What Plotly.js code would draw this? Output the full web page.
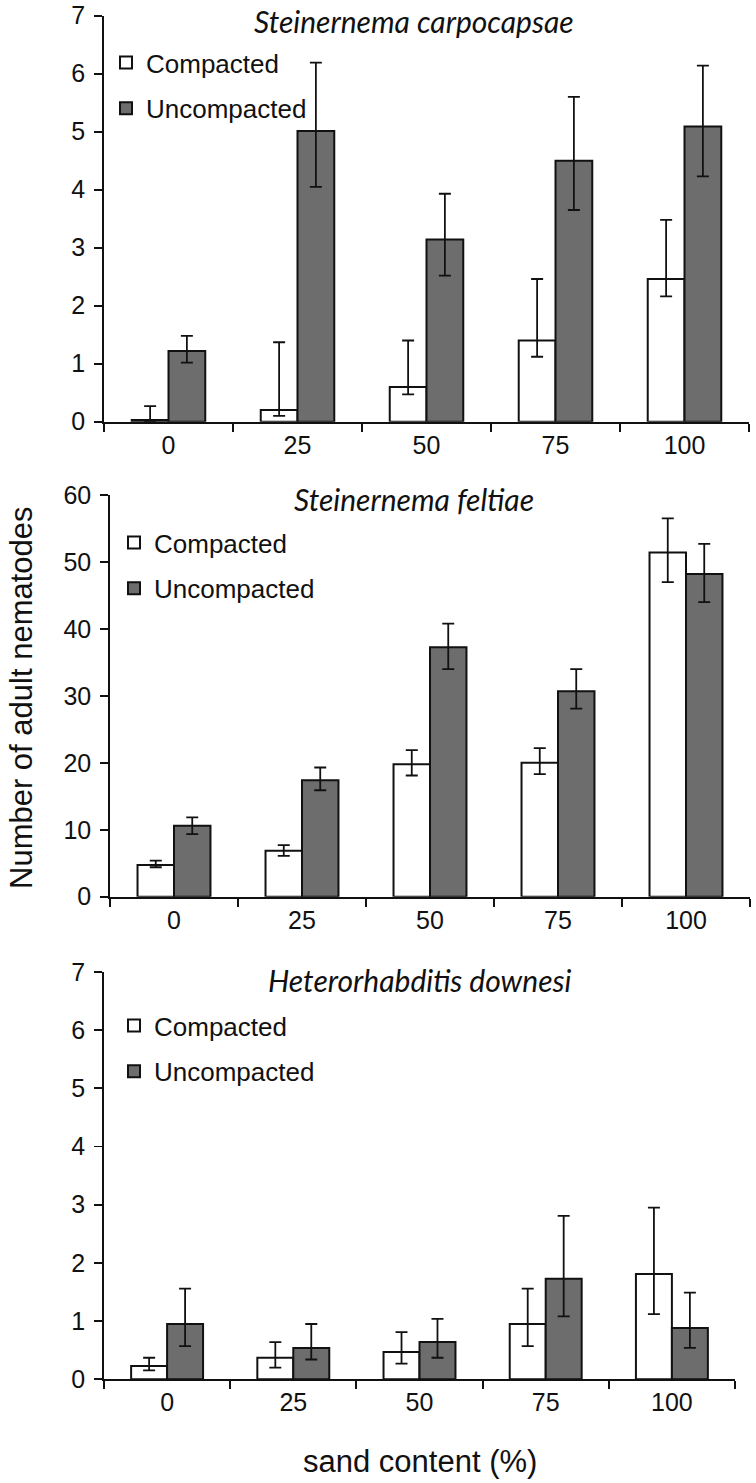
<!DOCTYPE html>
<html>
<head>
<meta charset="utf-8">
<script src="https://cdn.plot.ly/plotly-3.0.1.min.js"></script>
<style>
  html, body { margin: 0; padding: 0; background: #fff; }
  #chart { width: 756px; height: 1483px; }
</style>
</head>
<body>
<div id="chart"></div>
<script>
// ---- data ----
const categories = ['0', '25', '50', '75', '100'];
const seriesNames = ['Compacted', 'Uncompacted'];
const panelTitles = ['Steinernema carpocapsae', 'Steinernema feltiae', 'Heterorhabditis downesi'];
const yAxisTitle = 'Number of adult nematodes';
const xAxisTitle = 'sand content (%)';

// Steinernema carpocapsae
const carpCompacted = [0.03, 0.2, 0.6, 1.4, 2.46];
const carpCompactedPlus = [0.24, 1.17, 0.8, 1.06, 1.02];
const carpCompactedMinus = [0.03, 0.1, 0.13, 0.28, 0.3];
const carpUncompacted = [1.22, 5.01, 3.14, 4.5, 5.09];
const carpUncompactedPlus = [0.26, 1.18, 0.79, 1.1, 1.05];
const carpUncompactedMinus = [0.2, 0.96, 0.62, 0.85, 0.86];

// Steinernema feltiae
const feltCompacted = [4.73, 6.87, 19.8, 20.0, 51.4];
const feltCompactedPlus = [0.67, 0.83, 2.1, 2.2, 5.1];
const feltCompactedMinus = [0.33, 0.77, 1.7, 1.7, 4.4];
const feltUncompacted = [10.6, 17.4, 37.25, 30.7, 48.2];
const feltUncompactedPlus = [1.25, 1.9, 3.55, 3.3, 4.5];
const feltUncompactedMinus = [1.24, 1.5, 3.25, 2.6, 4.2];

// Heterorhabditis downesi
const downCompacted = [0.23, 0.37, 0.47, 0.95, 1.81];
const downCompactedPlus = [0.14, 0.27, 0.34, 0.61, 1.14];
const downCompactedMinus = [0.075, 0.17, 0.2, 0.38, 0.69];
const downUncompacted = [0.95, 0.54, 0.64, 1.73, 0.88];
const downUncompactedPlus = [0.61, 0.41, 0.4, 1.08, 0.61];
const downUncompactedMinus = [0.38, 0.2, 0.27, 0.65, 0.34];

// ---- style ----
const W = 756, H = 1483;
const tickFont = { family: 'Liberation Sans, Arial, sans-serif', size: 25, color: '#111' };
const titleFont = { family: 'Lato, Open Sans, sans-serif', size: 30, color: '#111', style: 'italic' };
const fillC = '#ffffff', fillU = '#6d6d6d';

function px2x(p) { return p / W; }
function px2y(p) { return 1 - p / H; }

const panels = [
  { c: carpCompacted, cp: carpCompactedPlus, cm: carpCompactedMinus,
    u: carpUncompacted, up: carpUncompactedPlus, um: carpUncompactedMinus,
    range: [0, 7], dtick: 1, xd: [104, 749], yd: [421.7, 15.7], leg: [106, 39], title: [414, 21] },
  { c: feltCompacted, cp: feltCompactedPlus, cm: feltCompactedMinus,
    u: feltUncompacted, up: feltUncompactedPlus, um: feltUncompactedMinus,
    range: [0, 60], dtick: 10, xd: [110, 750], yd: [896.7, 495], leg: [114, 519], title: [414, 499] },
  { c: downCompacted, cp: downCompactedPlus, cm: downCompactedMinus,
    u: downUncompacted, up: downUncompactedPlus, um: downUncompactedMinus,
    range: [0, 7], dtick: 1, xd: [104, 735], yd: [1379.3, 972], leg: [114, 1002], title: [420, 980] }
];

const data = [];
const layout = {
  width: W, height: H,
  margin: { l: 0, r: 0, t: 0, b: 0 },
  paper_bgcolor: '#fff', plot_bgcolor: '#fff',
  barmode: 'group', bargap: 0.43, bargroupgap: 0,
  showlegend: true,
  annotations: []
};

panels.forEach((p, i) => {
  const n = i === 0 ? '' : String(i + 1);
  const legName = 'legend' + n;
  const errC = { type: 'data', symmetric: false, array: p.cp, arrayminus: p.cm, color: '#111', thickness: 1.8, width: 6 };
  const errU = { type: 'data', symmetric: false, array: p.up, arrayminus: p.um, color: '#111', thickness: 1.8, width: 6 };
  data.push({
    type: 'bar', name: seriesNames[0], x: categories, y: p.c, error_y: errC,
    xaxis: 'x' + n, yaxis: 'y' + n, legend: legName, legendgroup: 'c' + i,
    marker: { color: fillC, line: { color: '#111', width: 2 } }
  });
  data.push({
    type: 'bar', name: seriesNames[1], x: categories, y: p.u, error_y: errU,
    xaxis: 'x' + n, yaxis: 'y' + n, legend: legName, legendgroup: 'u' + i,
    marker: { color: fillU, line: { color: '#111', width: 2 } }
  });
  layout['xaxis' + n] = {
    domain: [px2x(p.xd[0]), px2x(p.xd[1])], anchor: 'y' + n,
    type: 'category', tickson: 'boundaries', ticks: 'outside', ticklen: 8, tickwidth: 1.8, tickcolor: '#111',
    showline: true, linecolor: '#111', linewidth: 1.8, showgrid: false, zeroline: false,
    tickfont: tickFont, fixedrange: true
  };
  layout['yaxis' + n] = {
    domain: [px2y(p.yd[0]), px2y(p.yd[1])], anchor: 'x' + n,
    range: p.range, dtick: p.dtick, tick0: 0, ticks: 'outside', ticklen: 8, tickwidth: 1.8, tickcolor: '#111',
    showline: true, linecolor: '#111', linewidth: 1.8, showgrid: false, zeroline: false,
    tickfont: tickFont, ticklabelstandoff: 4, fixedrange: true
  };
  layout[legName] = {
    x: px2x(p.leg[0]), y: px2y(p.leg[1]), xanchor: 'left', yanchor: 'top',
    xref: 'paper', yref: 'paper',
    bgcolor: 'rgba(0,0,0,0)', borderwidth: 0,
    font: { family: 'Liberation Sans, Arial, sans-serif', size: 26, color: '#111' },
    traceorder: 'grouped', tracegroupgap: 9, itemclick: false, itemdoubleclick: false
  };
  layout.annotations.push({
    xref: 'paper', yref: 'paper', x: px2x(p.title[0]), y: px2y(p.title[1]),
    xanchor: 'center', yanchor: 'middle', showarrow: false,
    text: panelTitles[i], font: titleFont
  });
});

layout.annotations.push({
  xref: 'paper', yref: 'paper', x: px2x(21), y: px2y(698),
  xanchor: 'center', yanchor: 'middle', showarrow: false, textangle: -90,
  text: yAxisTitle, font: { family: 'Liberation Sans, Arial, sans-serif', size: 31, color: '#111' }
});
layout.annotations.push({
  xref: 'paper', yref: 'paper', x: px2x(420), y: px2y(1461.7),
  xanchor: 'center', yanchor: 'middle', showarrow: false,
  text: xAxisTitle, font: { family: 'Liberation Sans, Arial, sans-serif', size: 31, color: '#111' }
});

Plotly.newPlot('chart', data, layout, { displayModeBar: false, staticPlot: true });
</script>
</body>
</html>
